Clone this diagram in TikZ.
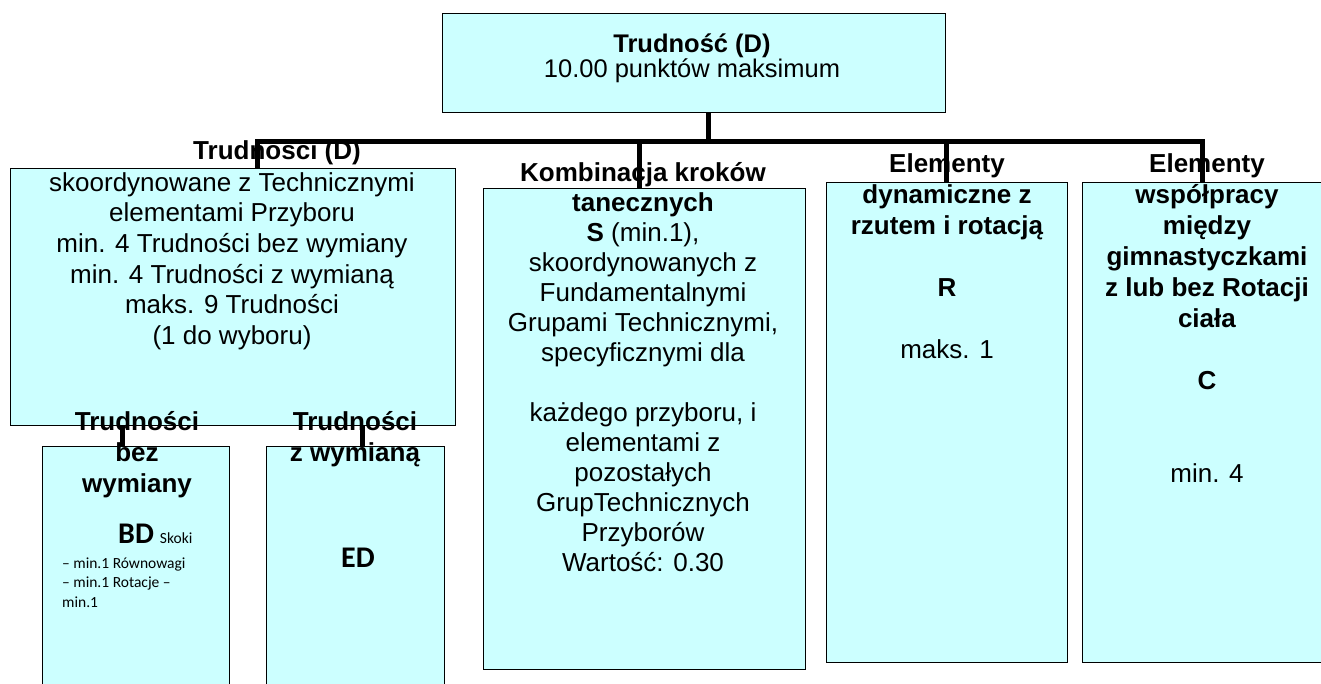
\documentclass[tikz,border=0pt]{standalone}
\usepackage{fontspec}
\setmainfont{Liberation Sans}
\newfontfamily\carlito{Carlito}
\usepackage{xcolor}
\definecolor{boxcyan}{HTML}{CCFFFF}

% first line starts with a fixed-height rule, so north sits 22pt above its baseline
\newcommand{\tl}{\rule{0pt}{22pt}}

\tikzset{
	box/.style={draw=black, line width=1.4pt, fill=boxcyan, inner sep=0pt, anchor=north west},
	lbl/.style={align=center, inner sep=0pt, anchor=north},
	link/.style={line width=5pt}
}

\begin{document}
\begin{tikzpicture}[x=1pt,y=-1pt]
	\useasboundingbox (0,0) rectangle (1321,684);

	% boxes
	\node[box, minimum width=503pt, minimum height=99pt] (top) at (442,13) {};
	\node[box, minimum width=445pt, minimum height=257pt] (sk) at (10,168) {};
	\node[box, minimum width=322pt, minimum height=481pt] (kk) at (483,188) {};
	\node[box, minimum width=241pt, minimum height=480pt] (rr) at (826,182) {};
	\node[box, minimum width=250pt, minimum height=480pt] (cc) at (1082,182) {};
	\node[box, minimum width=187pt, minimum height=260pt] (bd) at (42,446) {};
	\node[box, minimum width=178pt, minimum height=260pt] (ed) at (266,446) {};

	% texts (y = first baseline - 22)
	\node[lbl, font=\fontsize{25.5}{25}\selectfont] (toptxt) at (692,30)
		{\tl\textbf{Trudność (D)}\\10.00 punktów maksimum};
	\node[lbl, font=\fontsize{26}{30.6}\selectfont\bfseries] (sktitle) at (277,137) {\tl Trudności (D)};
	\node[lbl, font=\fontsize{26}{30.6}\selectfont] (sktxt) at (232,169)
		{\tl skoordynowane z Technicznymi\\elementami Przyboru\\min. 4 Trudności bez wymiany\\
		 min. 4 Trudności z wymianą\\maks. 9 Trudności\\(1 do wyboru)};
	\node[lbl, font=\fontsize{26}{30}\selectfont] (kktxt) at (643,159)
		{\tl\textbf{Kombinacja kroków}\\\textbf{tanecznych}\\\textbf{S} (min.1),\\skoordynowanych z\\
		 Fundamentalnymi\\Grupami Technicznymi,\\specyficznymi dla\\[30pt]każdego przyboru, i\\
		 elementami z\\pozostałych\\GrupTechnicznych\\Przyborów\\Wartość: 0.30};
	\node[lbl, font=\fontsize{26}{31}\selectfont] (rrtxt) at (947,150)
		{\tl\textbf{Elementy}\\\textbf{dynamiczne z}\\\textbf{rzutem i rotacją}\\[31pt]\textbf{R}\\[31pt]maks. 1};
	\node[lbl, font=\fontsize{26}{31}\selectfont] (cctxt) at (1207,150)
		{\tl\textbf{Elementy}\\\textbf{współpracy}\\\textbf{między}\\\textbf{gimnastyczkami}\\
		 \textbf{z lub bez Rotacji}\\\textbf{ciała}\\[31pt]\textbf{C}\\[62pt]min. 4};
	\node[lbl, font=\fontsize{26}{31}\selectfont\bfseries] (bdtitle) at (137,408) {\tl Trudności\\bez\\wymiany};
	\node[lbl, font=\fontsize{26}{31}\selectfont\bfseries] (edtitle) at (355,408) {\tl Trudności\\z wymianą};
	\node[lbl, anchor=base west, font=\carlito\fontsize{15.5}{19.5}\selectfont] (bdhead) at (118,543)
		{{\fontsize{30}{30}\selectfont\bfseries BD}\hspace{6pt}Skoki};
	\node[lbl, anchor=north west, align=left, font=\carlito\fontsize{15.5}{19.5}\selectfont] (bdlist) at (62,546)
		{\tl– min.1 Równowagi\\– min.1 Rotacje –\\min.1};
	\node[lbl, anchor=base, font=\carlito\fontsize{30}{30}\selectfont\bfseries] (edtxt) at (358,567) {ED};

	% connectors
	\coordinate (hub) at (708,142);
	\coordinate (barL) at (255,142);
	\coordinate (barR) at (1204.5,142);
	\draw[link] (top.south -| hub) -- (hub);
	\draw[link] (barL) -- (barR);
	\foreach \x/\n in {257/sk,639/kk,946/rr,1202/cc}
	{
		\draw[link] (\x,142) -- (\x,142 |- \n.north);
	}
	\foreach \x/\n in {122/bd,362/ed}
	{
		\draw[link] (\x,0 |- sk.south) -- (\x,0 |- \n.north);
	}
\end{tikzpicture}
\end{document}
